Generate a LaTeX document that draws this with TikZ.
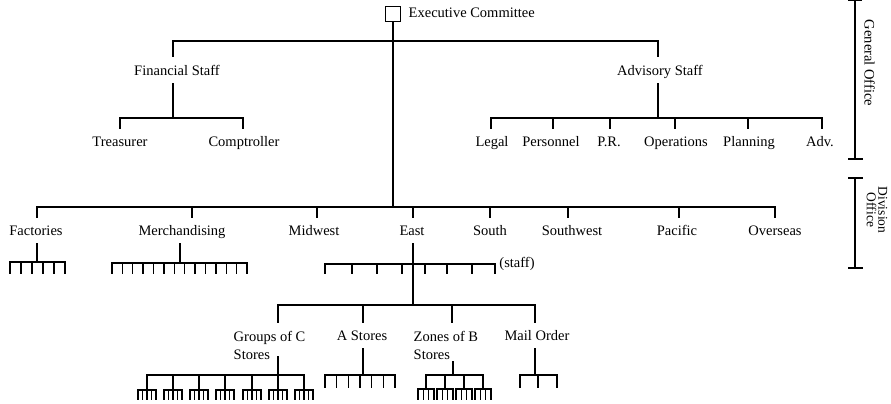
\documentclass[tikz,border=0pt]{standalone}
\usepackage{fontspec}
\setmainfont{Liberation Serif}
\begin{document}
\begin{tikzpicture}[x=1pt,y=-1pt,line width=1.4pt,line cap=rect,
  lbl/.style={inner sep=0pt,font=\fontsize{14.5}{18}\selectfont,text height=10pt,text depth=3pt},
  lbltwo/.style={inner sep=0pt,font=\fontsize{14.5}{18}\selectfont,align=left,anchor=north west},
  todown/.style={shorten >=8pt},
  fromup/.style={shorten <=4.5pt},
  comb/.style={line width=1.1pt}]
\useasboundingbox (0,0) rectangle (891,404);

% Executive committee
\node[draw,minimum size=15pt,inner sep=0pt] (ec) at (393,14) {};
\node[lbl,anchor=west] (ect) at (408,14) {Executive Committee};
\coordinate (tbL) at (173,41);
\coordinate (tbR) at (658,41);
\coordinate (dbM) at (393,207);
\draw (ec.south) -- (dbM);
\draw (tbL) -- (tbR);

% staff level
\node[lbl] (fs) at (177,72) {Financial Staff};
\node[lbl] (ads) at (660,72) {Advisory Staff};
\draw[todown] (tbL) -- (tbL |- fs.north);
\draw[todown] (tbR) -- (tbR |- ads.north);

% financial
\node[lbl] (tr) at (120,143) {Treasurer};
\node[lbl] (co) at (244,143) {Comptroller};
\draw[fromup] (173,0 |- fs.south) -- (173,118);
\draw[shorten <=8pt,shorten >=8pt] (tr.north) -- (120,118) -- (243,118) -- (243,0 |- co.north);

% advisory
\draw[fromup] (658,0 |- ads.south) -- (658,118);
\draw (491,118) -- (822,118);
\foreach \n/\t/\x/\tx in {lg/Legal/492/491,pe/Personnel/551/553,pr/P.R./609/610,op/Operations/676/675,pl/Planning/749/748,ad/Adv./820/822}{
  \node[lbl] (\n) at (\x,143) {\t};
  \draw[todown] (\tx,118) -- (\tx,0 |- \n.north);
}

% General office bracket
\draw (855,0.7) -- (855,159);
\draw (849,159) -- (862,159);
\draw (849,0.7) -- (861,0.7);
\node[lbl,rotate=-90] (go) at (868,63) {General Office};

% Division office bracket
\draw (849,178) -- (862,178);
\draw (855,178) -- (855,268);
\draw (849,268) -- (862,268);
\node[inner sep=0pt,font=\fontsize{13.5}{11.5}\selectfont,align=center,rotate=-90] (do) at (877,210) {Division\\Office};

% Division level
\draw (37,207) -- (775,207);
\foreach \n/\t/\x/\tx in {fa/Factories/36/37,me/Merchandising/182/192,mw/Midwest/314/317,ea/East/412/413,so/South/490/490,sw/Southwest/572/568,pa/Pacific/677/679,ov/Overseas/775/775}{
  \node[lbl] (\n) at (\x,232) {\t};
  \draw[todown] (\tx,207) -- (\tx,0 |- \n.north);
}

% Factories
\draw[fromup] (37,0 |- fa.south) -- (37,262);
\draw (10,262) -- (65,262);
\foreach \x in {10,21,32,43,54,65} \draw (\x,262) -- (\x,273);

% Merchandising
\draw[fromup] (180,0 |- me.south) -- (180,263);
\draw (112,263) -- (247,263);
\foreach \i in {0,...,13} \draw ({112+\i*135/13},263) -- ({112+\i*135/13},273);

% East
\draw[fromup] (413,0 |- ea.south) -- (413,305);
\draw (325,264) -- (495,264);
\foreach \x in {325,352,377,402,425,447,472,495} \draw (\x,264) -- (\x,273);
\node[lbl] (st) at (517,264) {(staff)};

% Stores level
\draw (278,305) -- (535,305);
\node[lbltwo] (gc) at (233,331) {Groups of C\\Stores};
\node[lbl] (ast) at (362,337) {A Stores};
\node[lbltwo] (zb) at (413,331) {Zones of B\\Stores};
\node[lbl] (mo) at (537,337) {Mail Order};
\draw[shorten >=9pt] (278,305) -- (278,0 |- gc.north);
\draw[todown] (363,305) -- (363,0 |- ast.north);
\draw[shorten >=9pt] (452,305) -- (452,0 |- zb.north);
\draw[todown] (535,305) -- (535,0 |- mo.north);

% Groups of C stores
\draw (278,357) -- (278,375);
\draw (147,375) -- (304,375);
\foreach \x in {147,173,199,225,252,278,304}{
  \draw (\x,375) -- (\x,390);
  \draw[comb] ({\x-9},399) -- ({\x-9},390) -- ({\x+9},390) -- ({\x+9},399);
  \foreach \d in {-4.5,0,4.5} \draw[comb] ({\x+\d},390) -- ({\x+\d},399);
}

% A stores
\draw[fromup] (363,0 |- ast.south) -- (363,375);
\draw (325,375) -- (395,375);
\foreach \i in {0,...,6} \draw ({325+\i*70/6},375) -- ({325+\i*70/6},387);

% Zones of B stores
\draw (453,362) -- (453,375);
\draw (426,375) -- (483,375);
\foreach \x in {426,445,464,483}{
  \draw (\x,375) -- (\x,389);
  \draw[comb] ({\x-8},399) -- ({\x-8},389) -- ({\x+8},389) -- ({\x+8},399);
  \foreach \d in {-2.67,2.67} \draw[comb] ({\x+\d},389) -- ({\x+\d},399);
}

% Mail order
\draw[fromup] (535,0 |- mo.south) -- (535,375);
\draw (520,375) -- (557,375);
\foreach \x in {520,538,557} \draw (\x,375) -- (\x,387);
\end{tikzpicture}
\end{document}
